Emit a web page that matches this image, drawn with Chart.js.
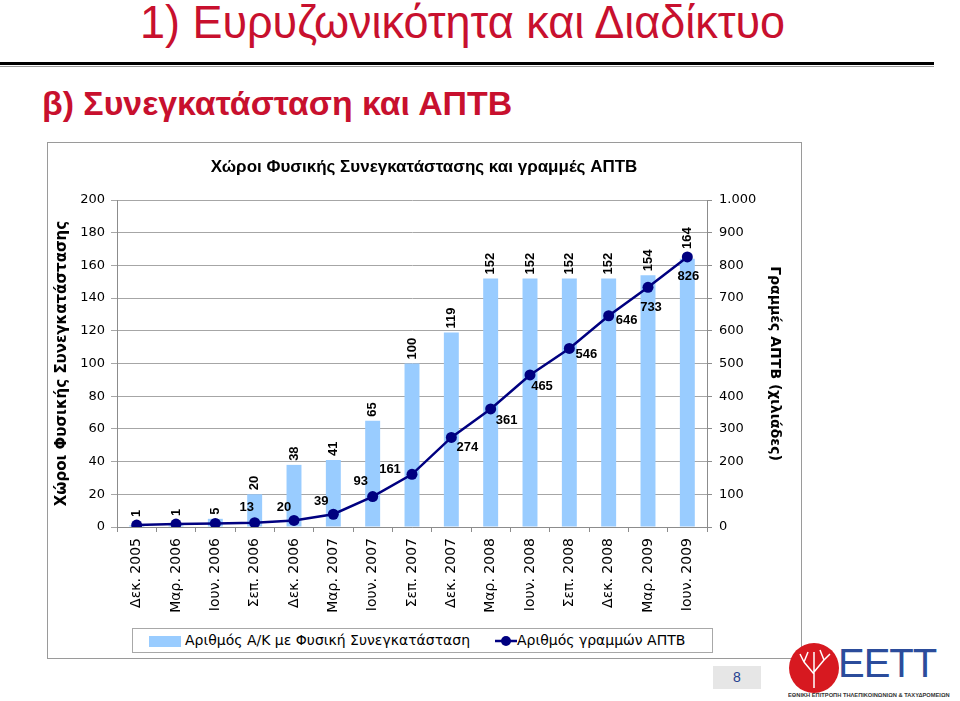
<!DOCTYPE html>
<html>
<head>
<meta charset="utf-8">
<script src="https://cdn.jsdelivr.net/npm/chart.js@4.4.0/dist/chart.umd.min.js"></script>
<style>
  body { margin: 0; width: 960px; height: 701px; position: relative; background: #fff; overflow: hidden; font-family: "DejaVu Sans", sans-serif; }
  .head1 { position: absolute; left: 140px; top: -1px; white-space: nowrap; font: 46px/1 "Liberation Sans", Arial, sans-serif; color: #c8102e; transform-origin: 0 0; }
  .rule1 { position: absolute; left: 0; top: 62px; width: 934px; height: 3px; background: #000; }
  .rule2 { position: absolute; left: 0; top: 66px; width: 934px; height: 1px; background: #999; }
  .head2 { position: absolute; left: 42px; top: 86px; white-space: nowrap; font: bold 34px/1 "Liberation Sans", Arial, sans-serif; color: #c8102e; transform-origin: 0 0; }
  .frame { position: absolute; left: 47px; top: 142px; width: 753px; height: 515px; border: 1px solid #9a9a9a; }
  #chart { position: absolute; left: 47px; top: 142px; }
  .legend { position: absolute; left: 132px; top: 628px; width: 579px; height: 23px; border: 1px solid #a8a8a8; font-size: 14px; line-height: 23px; white-space: nowrap; }
  .legend .sw { position: absolute; left: 16px; top: 7px; width: 32px; height: 11px; background: #99ccff; }
  .legend .t1 { position: absolute; left: 52px; top: 0; }
  .legend svg { position: absolute; left: 362px; top: 6px; }
  .legend .t2 { position: absolute; left: 384px; top: 0; }
  .pageno { position: absolute; left: 713px; top: 666px; width: 48px; height: 23px; background: #e6e6e6; color: #1f3f8f; font: 14px/23px "Liberation Sans", sans-serif; text-align: center; }
  .logo { position: absolute; left: 788px; top: 640px; }
  .eett { position: absolute; left: 838px; top: 643px; font: 40px/1 "Liberation Sans", sans-serif; color: #2b4c9b; letter-spacing: -1px; }
  .eett-sub { position: absolute; left: 791px; top: 693px; font: bold 5.5px/1 "Liberation Sans", sans-serif; color: #333; white-space: nowrap; }
</style>
</head>
<body>
<div class="head1" id="head1">1) Ευρυζωνικότητα και Διαδίκτυο</div>
<div class="rule1"></div>
<div class="rule2"></div>
<div class="head2" id="head2">β) Συνεγκατάσταση και ΑΠΤΒ</div>

<div class="frame"></div>
<canvas id="chart" width="754" height="476"></canvas>

<div class="legend">
  <span class="sw"></span><span class="t1">Αριθμός Α/Κ με Φυσική Συνεγκατάσταση</span>
  <svg width="22" height="12"><line x1="0" y1="6" x2="22" y2="6" stroke="#000080" stroke-width="2.5"/><circle cx="11" cy="6" r="5" fill="#000080"/></svg>
  <span class="t2">Αριθμός γραμμών ΑΠΤΒ</span>
</div>

<div class="pageno">8</div>
<svg class="logo" width="52" height="54">
  <circle cx="26" cy="28" r="25" fill="#d71920"/>
  <path d="M26 48 L26 30 M26 34 L16 22 M26 32 L36 20 M16 22 L12 14 M16 22 L20 12 M36 20 L32 10 M36 20 L42 14 M26 30 L26 12" stroke="#fff" stroke-width="1.5" fill="none"/>
</svg>
<div class="eett">EETT</div>
<div class="eett-sub" id="eettSub">ΕΘΝΙΚΗ ΕΠΙΤΡΟΠΗ ΤΗΛΕΠΙΚΟΙΝΩΝΙΩΝ &amp; ΤΑΧΥΔΡΟΜΕΙΩΝ</div>

<script>
// Data
const quarters = ['Δεκ. 2005', 'Μαρ. 2006', 'Ιουν. 2006', 'Σεπ. 2006', 'Δεκ. 2006', 'Μαρ. 2007', 'Ιουν. 2007',
  'Σεπ. 2007', 'Δεκ. 2007', 'Μαρ. 2008', 'Ιουν. 2008', 'Σεπ. 2008', 'Δεκ. 2008', 'Μαρ. 2009', 'Ιουν. 2009'];
const siteCounts = [1, 1, 5, 20, 38, 41, 65, 100, 119, 152, 152, 152, 152, 154, 164];
const llLines = [6, 9, 11, 13, 20, 39, 93, 161, 274, 361, 465, 546, 646, 733, 826];
const leftTicks = { min: 0, max: 200, step: 20 };
const rightTicks = { min: 0, max: 1000, step: 100 };

const chartTitle = 'Χώροι Φυσικής Συνεγκατάστασης και γραμμές ΑΠΤΒ';
const leftTitle = 'Χώροι Φυσικής Συνεγκατάστασης';
const rightTitle = 'Γραμμές ΑΠΤΒ (χιλιάδες)';

// where the line labels sit relative to their point (null = not shown)
const lineLabelOffsets = [null, null, null, [-8, -15], [-10, -13], [-12, -13], [-12, -15], [-22, -5],
  [16, 10], [16, 11], [12, 11], [17, 6], [18, 5], [3, 20], [1, 20]];

// squeeze the slide headings to the narrow look of the original
function squeeze(id, w) {
  const el = document.getElementById(id);
  el.style.transform = 'scaleX(' + (w / el.offsetWidth) + ')';
}
squeeze('head1', 645);
squeeze('head2', 470);
squeeze('eettSub', 162);

function dotThousands(v) {
  return String(v).replace(/\B(?=(\d{3})+(?!\d))/g, '.');
}

const valueLabels = {
  id: 'valueLabels',
  afterDatasetsDraw(chart) {
    const ctx = chart.ctx;
    const pts = chart.getDatasetMeta(1).data;
    ctx.save();
    ctx.font = 'bold 13px "Liberation Sans", Arial, sans-serif';
    ctx.fillStyle = '#000';

    // bar labels, rotated, kept clear of the line markers
    chart.getDatasetMeta(0).data.forEach((bar, i) => {
      const start = Math.min(bar.y, pts[i].y - 4) - 4;
      ctx.save();
      ctx.translate(bar.x, start);
      ctx.rotate(-Math.PI / 2);
      ctx.textAlign = 'left';
      ctx.textBaseline = 'middle';
      ctx.fillText(siteCounts[i], 0, 0);
      ctx.restore();
    });

    // line labels
    ctx.textAlign = 'center';
    ctx.textBaseline = 'middle';
    pts.forEach((pt, i) => {
      const off = lineLabelOffsets[i];
      if (!off) return;
      ctx.fillText(llLines[i], pt.x + off[0], pt.y + off[1]);
    });
    ctx.restore();
  }
};

const tickFont = { family: '"DejaVu Sans", sans-serif', size: 13 };

new Chart(document.getElementById('chart'), {
  type: 'bar',
  data: {
    labels: quarters,
    datasets: [
      {
        type: 'bar',
        label: 'Αριθμός Α/Κ με Φυσική Συνεγκατάσταση',
        data: siteCounts,
        backgroundColor: '#99ccff',
        borderWidth: 0,
        categoryPercentage: 1,
        barPercentage: 0.38,
        yAxisID: 'y',
        order: 1
      },
      {
        type: 'line',
        label: 'Αριθμός γραμμών ΑΠΤΒ',
        data: llLines,
        borderColor: '#000080',
        backgroundColor: '#000080',
        borderWidth: 2.5,
        pointRadius: 5.5,
        pointBackgroundColor: '#000080',
        pointBorderWidth: 0,
        tension: 0,
        yAxisID: 'y1',
        order: 0
      }
    ]
  },
  options: {
    responsive: false,
    animation: false,
    devicePixelRatio: 1,
    layout: { padding: 0 },
    plugins: {
      legend: { display: false },
      tooltip: { enabled: false },
      title: {
        display: true,
        text: chartTitle,
        color: '#000',
        font: { family: '"Liberation Sans", Arial, sans-serif', size: 17, weight: 'bold' },
        padding: { top: 15, bottom: 22.6 }
      }
    },
    scales: {
      x: {
        grid: { offset: true, drawOnChartArea: false, drawTicks: true, tickLength: 5, color: '#8c8c8c' },
        border: { color: '#8c8c8c' },
        ticks: { minRotation: 90, maxRotation: 90, autoSkip: false, padding: 6, color: '#000',
          font: { family: '"DejaVu Sans", sans-serif', size: 14 } },
        afterFit(scale) { scale.height = 91; }
      },
      y: {
        position: 'left',
        min: leftTicks.min,
        max: leftTicks.max,
        ticks: { stepSize: leftTicks.step, padding: 6, color: '#000', font: tickFont },
        grid: { color: '#a6a6a6', tickLength: 6 },
        border: { color: '#8c8c8c' },
        title: { display: true, text: leftTitle, color: '#000',
          font: { family: '"DejaVu Sans", sans-serif', size: 15, weight: 'bold' }, padding: { top: 6, bottom: 0 } },
        afterFit(scale) { scale.width = 70; }
      },
      y1: {
        position: 'right',
        min: rightTicks.min,
        max: rightTicks.max,
        ticks: { stepSize: rightTicks.step, padding: 7, color: '#000', font: tickFont, callback: v => dotThousands(v) },
        grid: { drawOnChartArea: false, tickLength: 5, color: '#8c8c8c' },
        border: { color: '#8c8c8c' },
        title: { display: true, text: rightTitle, color: '#000',
          font: { family: '"DejaVu Sans", sans-serif', size: 14, weight: 'bold' }, padding: { top: 17.5, bottom: 0 } },
        afterFit(scale) { scale.width = 94; }
      }
    }
  },
  plugins: [valueLabels]
});
</script>
</body>
</html>
